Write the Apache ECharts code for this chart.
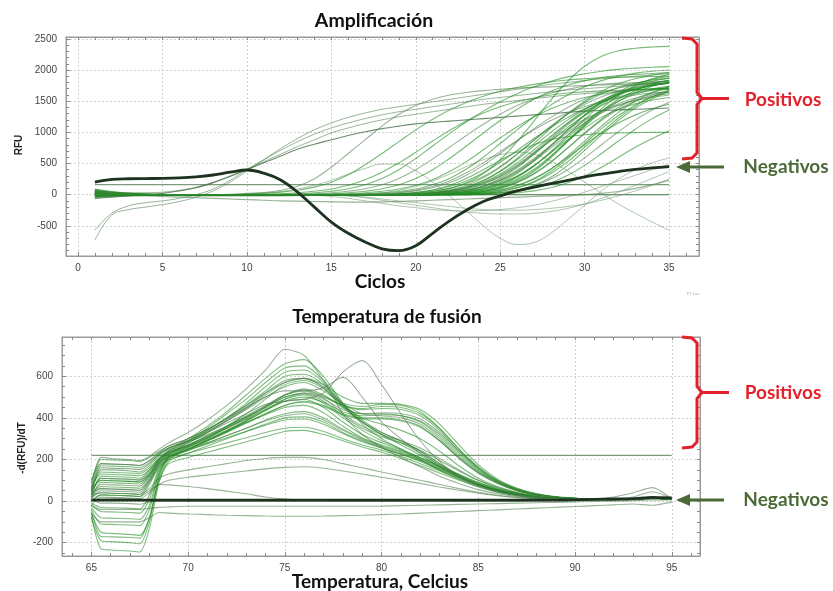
<!DOCTYPE html>
<html><head><meta charset="utf-8">
<script src="https://cdn.jsdelivr.net/npm/echarts@6/dist/echarts.min.js"></script>
<style>html,body{margin:0;padding:0;background:#fff}#c{width:833px;height:591px}</style>
</head><body><div id="c"></div>
<script>
// ---------- Amplification chart data (RFU vs cycle) ----------
const cycles = [1,2,3,4,5,6,7,8,9,10,11,12,13,14,15,16,17,18,19,20,21,22,23,24,25,26,27,28,29,30,31,32,33,34,35];
const cycleTicks = [0,5,10,15,20,25,30,35];
const rfuTicks = [-500,0,500,1000,1500,2000,2500];

const ampNegBlack = [200,245,255,258,260,268,285,315,360,395,345,235,40,-200,-440,-620,-760,-870,-900,-820,-620,-420,-250,-110,-20,60,120,175,230,285,330,370,405,430,450];
const ampFlat160 = [160,160,160,160,160,160,160,160,160,160,160,160,160,160,160,160,160,160,160,160,160,160,160,160,160,160,160,160,160,160,160,160,160,160,160];
const ampFlat0 = [0,0,0,0,0,0,0,0,0,0,0,0,0,0,0,0,0,0,0,0,0,0,0,0,0,0,0,0,0,0,0,0,0,0,0];
const ampNear0 = [10,5,0,-5,-10,-15,-20,-20,-20,-20,-20,-20,-15,-10,-5,0,0,0,0,0,0,0,0,0,0,0,0,0,0,0,0,0,0,0,0];

const ampE1 = [-730,-330,-240,-200,-160,-110,-40,60,200,380,560,740,900,1040,1150,1240,1310,1370,1410,1450,1490,1530,1570,1610,1650,1690,1730,1770,1800,1830,1860,1880,1900,1920,1940];
const ampE2 = [-570,-300,-180,-130,-100,-60,0,90,230,400,560,710,850,970,1070,1150,1220,1280,1330,1370,1410,1450,1490,1530,1560,1590,1620,1650,1680,1700,1720,1740,1760,1780,1800];
const ampE3 = [60,40,30,30,40,70,120,200,300,410,530,650,770,880,990,1070,1140,1200,1250,1290,1330,1370,1410,1450,1480,1510,1540,1570,1600,1620,1640,1660,1680,1700,1710];
const ampE4 = [-60,-40,-20,0,20,60,110,190,290,400,510,620,730,810,880,950,1010,1060,1100,1135,1160,1180,1200,1220,1240,1260,1280,1300,1320,1340,1350,1360,1370,1380,1390];

const ampS1 = [50,30,15,5,0,0,0,0,5,20,35,70,135,255,440,660,880,1100,1290,1430,1530,1600,1640,1670,1690,1710,1720,1730,1740,1750,1760,1770,1775,1780,1785];
const ampS2 = [20,10,0,0,0,0,0,0,0,10,20,40,70,120,200,320,480,660,850,1040,1210,1360,1480,1580,1660,1720,1770,1810,1840,1860,1875,1885,1890,1895,1900];
const ampS3 = [80,40,20,10,0,0,0,0,0,0,5,15,30,55,90,150,240,360,510,680,860,1030,1180,1310,1410,1490,1550,1600,1630,1650,1665,1675,1680,1685,1690];
const ampS4 = [0,-10,-10,-5,0,0,0,0,0,0,0,5,15,30,55,95,160,260,400,580,780,980,1170,1340,1490,1620,1730,1820,1890,1940,1980,2010,2030,2045,2055];
const ampS5 = [30,20,10,0,0,0,0,0,0,0,0,0,5,15,30,55,95,160,260,400,570,760,950,1130,1290,1430,1540,1630,1690,1740,1770,1790,1800,1810,1815];
const ampS6 = [-30,-20,-10,0,0,0,0,0,0,0,0,0,0,5,15,30,55,95,160,260,400,580,780,990,1190,1370,1530,1660,1760,1830,1880,1910,1930,1945,1955];
const ampS7 = [60,30,15,5,0,0,0,0,0,0,0,0,0,0,5,15,30,55,90,150,240,370,530,720,910,1090,1250,1380,1480,1560,1610,1650,1680,1700,1710];
const ampS8 = [10,5,0,0,0,0,0,0,0,0,0,0,0,0,0,5,15,30,50,90,160,260,410,600,820,1040,1250,1440,1600,1730,1830,1900,1950,1980,2000];
const ampS9 = [40,20,10,0,0,0,0,0,0,0,0,0,0,0,0,0,5,15,30,60,110,190,310,470,660,860,1060,1240,1400,1530,1630,1710,1760,1800,1830];
const ampS10 = [-20,-10,0,0,0,0,0,0,0,0,0,0,0,0,0,0,0,5,15,35,70,130,220,350,520,710,900,1080,1240,1380,1490,1570,1630,1680,1710];
const ampS11 = [90,50,25,10,0,0,0,0,0,0,0,0,0,0,0,0,0,0,10,25,55,100,180,290,450,650,870,1090,1300,1480,1620,1720,1790,1840,1870];
const ampS12 = [0,0,0,0,0,0,0,0,0,0,0,0,0,0,0,0,0,0,5,15,35,70,130,230,380,580,820,1070,1300,1500,1660,1780,1860,1920,1960];
const ampS13 = [20,10,5,0,0,0,0,0,0,0,0,0,0,0,0,0,0,0,5,15,30,60,110,190,310,480,670,870,1050,1210,1340,1440,1510,1560,1600];
const ampS14 = [50,25,10,0,0,0,0,0,0,0,0,0,0,0,0,0,0,0,0,10,25,50,95,170,290,450,650,870,1080,1270,1430,1550,1640,1700,1740];
const ampS15 = [-40,-20,-10,0,0,0,0,0,0,0,0,0,0,0,0,0,0,0,0,5,15,35,70,130,230,370,560,790,1040,1280,1490,1650,1770,1850,1900];
const ampS16 = [10,5,0,0,0,0,0,0,0,0,0,0,0,0,0,0,0,0,5,20,50,100,190,340,560,850,1180,1520,1820,2060,2220,2310,2350,2370,2380];
const ampS17 = [30,15,5,0,0,0,0,0,0,0,0,0,0,0,0,0,0,0,0,5,15,35,70,130,220,360,540,750,960,1150,1310,1430,1520,1580,1620];
const ampS18 = [0,0,0,0,0,0,0,0,0,0,0,0,0,0,0,0,0,0,0,0,10,25,55,110,200,340,540,780,1030,1270,1470,1620,1720,1790,1830];
const ampS19 = [70,35,15,5,0,0,0,0,0,0,0,0,0,0,0,0,0,0,0,0,10,25,50,100,180,300,470,670,880,1070,1240,1370,1460,1520,1560];
const ampS20 = [-10,-5,0,0,0,0,0,0,0,0,0,0,0,0,0,0,0,0,0,0,0,15,40,85,160,280,460,690,950,1210,1440,1620,1740,1820,1870];
const ampS21 = [40,20,10,0,0,0,0,0,0,0,0,0,0,0,0,0,0,0,0,0,0,10,25,55,110,200,340,530,750,980,1190,1370,1500,1600,1660];
const ampS22 = [20,10,0,0,0,0,0,0,0,0,0,0,0,0,0,0,0,0,0,0,0,10,30,65,125,230,390,610,870,1130,1380,1590,1750,1860,1930];
const ampS23 = [60,30,15,5,0,0,0,0,0,0,0,0,0,0,0,0,0,0,0,0,0,0,15,40,80,150,260,410,600,800,990,1150,1280,1380,1450];
const ampS24 = [0,0,0,0,0,0,0,0,0,0,0,0,0,0,0,0,0,0,0,0,0,0,10,25,55,110,200,340,530,760,1000,1230,1420,1570,1680];
const ampS25 = [30,15,5,0,0,0,0,0,0,0,0,0,0,0,0,0,0,0,0,0,0,0,0,15,35,75,140,250,400,590,800,1010,1200,1360,1480];
const ampS26 = [-30,-15,-5,0,0,0,0,0,0,0,0,0,0,0,0,0,0,0,0,0,0,0,0,10,25,55,105,190,310,470,660,860,1050,1220,1360];
const ampS27 = [10,5,0,0,0,0,0,0,0,0,0,0,0,0,0,0,0,0,0,0,0,0,0,0,10,30,60,110,190,300,440,600,760,900,1020];
const ampS28 = [50,25,10,0,0,0,0,0,0,0,0,0,0,0,0,0,0,5,15,35,75,150,260,400,550,690,800,880,930,960,980,990,995,1000,1000];
const ampS29 = [20,10,0,0,0,0,0,0,0,0,0,0,0,0,0,0,0,0,0,5,20,45,90,170,290,460,680,920,1150,1350,1510,1630,1710,1760,1790];
const ampS30 = [0,0,0,0,0,0,0,0,0,0,0,0,0,0,0,0,0,0,0,0,5,20,45,90,170,290,460,680,920,1150,1350,1500,1610,1680,1720];
const ampS31 = [40,20,10,0,0,0,0,0,0,0,0,0,0,0,0,0,0,0,0,0,0,5,20,50,100,190,330,520,750,990,1210,1400,1540,1640,1700];
const ampS32 = [-20,-10,0,0,0,0,0,0,0,0,0,0,0,0,0,0,0,0,0,0,0,0,5,20,50,110,210,370,580,820,1060,1270,1440,1570,1650];
const ampS33 = [30,15,0,0,0,0,0,0,0,0,0,0,0,0,0,0,5,15,35,70,130,220,350,510,690,870,1040,1190,1310,1410,1490,1550,1600,1630,1650];
const ampS34 = [0,0,0,0,0,0,0,0,0,0,0,0,0,0,0,0,0,0,0,10,25,55,110,200,330,510,720,940,1150,1330,1480,1600,1690,1750,1800];
const ampS35 = [10,5,0,0,0,0,0,0,0,0,0,0,0,0,0,0,0,0,0,0,10,30,70,140,260,430,650,890,1120,1320,1480,1600,1690,1750,1790];
const ampS36 = [-10,0,0,0,0,0,0,0,0,0,0,0,0,0,0,0,0,0,0,0,0,5,20,50,110,210,370,590,850,1110,1340,1530,1670,1770,1840];
const ampS37 = [60,30,10,0,0,0,0,0,0,0,0,0,0,0,0,0,0,0,5,15,35,75,150,270,440,650,880,1100,1290,1450,1570,1660,1720,1760,1790];
const ampS38 = [0,0,0,0,0,0,0,0,0,0,0,0,0,0,0,0,0,0,0,0,0,0,0,10,30,70,150,280,470,710,960,1190,1390,1540,1650];
const ampS39 = [20,10,0,0,0,0,0,0,0,0,0,0,0,0,0,0,0,0,0,10,30,60,120,220,370,560,780,1000,1200,1370,1510,1620,1700,1760,1800];
const ampS40 = [30,15,5,0,0,0,0,0,0,0,0,0,0,0,0,0,0,0,0,0,0,10,30,70,140,250,410,620,860,1100,1320,1500,1640,1740,1810];
const ampS41 = [0,0,0,0,0,0,0,0,0,0,0,0,0,0,0,0,0,0,0,5,15,35,75,140,240,390,580,790,1000,1190,1340,1460,1550,1610,1650];
const ampS42 = [-20,-10,0,0,0,0,0,0,0,0,0,0,0,0,0,0,0,0,0,0,0,0,10,30,70,140,250,410,620,860,1100,1320,1500,1640,1740];

const ampHumpDip = [20,10,0,0,0,0,0,0,0,10,25,50,90,150,230,330,420,490,490,380,200,-20,-260,-500,-700,-800,-770,-620,-400,-170,60,250,400,510,590];
const ampRiseFall = [0,0,0,0,0,0,0,0,0,0,0,0,0,0,0,0,10,30,70,130,220,330,450,560,640,680,650,540,380,200,20,-150,-300,-440,-570];
const ampLow1 = [0,0,0,0,0,0,0,0,0,0,0,0,0,0,0,-20,-50,-90,-130,-170,-210,-250,-280,-300,-310,-310,-300,-270,-220,-150,-60,40,150,260,370];
const ampLow2 = [30,10,0,0,0,0,0,0,0,0,0,0,0,-10,-30,-60,-100,-140,-180,-210,-240,-255,-260,-255,-240,-210,-170,-110,-40,40,130,220,310,400,480];
const ampLow3 = [-50,-30,-20,-20,-30,-40,-50,-60,-70,-80,-90,-100,-105,-110,-115,-120,-120,-115,-110,-100,-90,-80,-70,-60,-50,-40,-30,-20,-10,0,20,50,100,160,230];
const ampLow4 = [0,0,0,0,0,0,0,0,0,0,0,0,0,0,-10,-20,-40,-70,-100,-130,-160,-190,-220,-240,-250,-250,-240,-220,-190,-150,-90,-20,60,150,250];

// ---------- Melt curve data (-d(RFU)/dT vs temperature) ----------
const tempC = [65,65.5,66,67,67.5,68,68.5,69,70,71,72,73,74,75,76,77,78,79,80,81,82,83,84,85,86,87,88,89,90,91,92,93,94,95];
const tempTicks = [65,70,75,80,85,90,95];
const dTicks = [-200,0,200,400,600];

const mA1 = [80,210,205,200,195,215,250,280,330,390,460,540,630,730,700,580,420,320,260,210,165,120,85,55,35,22,14,10,8,8,8,10,20,10];
const mA2 = [40,150,150,145,140,170,220,250,300,360,430,510,590,660,680,600,470,370,300,250,200,150,105,68,42,26,16,11,8,8,8,10,15,10];
const mA3 = [20,120,118,115,110,150,210,245,290,350,420,490,570,640,650,580,470,390,330,290,240,180,125,80,50,30,18,12,9,8,8,10,14,10];
const mA4 = [-60,-150,-155,-160,-165,-80,120,220,280,340,400,470,550,620,630,570,460,380,320,270,220,165,115,75,45,28,18,12,9,8,8,10,14,10];
const mA5 = [60,100,98,95,92,130,200,240,290,340,400,460,530,600,610,560,460,380,320,280,230,175,120,78,48,30,18,12,9,8,8,10,14,10];
const mA6 = [30,80,78,75,72,120,200,240,280,330,390,450,520,580,590,545,450,380,330,290,240,180,125,80,50,30,18,12,9,8,8,10,14,10];
const mB1 = [50,170,168,165,160,185,225,255,290,335,385,440,500,550,570,530,470,455,465,460,430,350,250,160,95,55,32,20,13,10,9,10,14,10];
const mB2 = [10,90,88,85,82,120,190,230,270,315,360,410,460,510,535,505,460,440,445,440,410,340,240,155,95,55,32,20,13,10,9,10,14,10];
const mB3 = [-30,-80,-82,-85,-88,-20,140,210,250,295,340,390,440,490,520,500,460,445,455,450,420,350,250,165,100,60,35,20,13,10,9,10,14,10];
const mB4 = [70,130,128,125,122,150,200,235,270,310,355,405,455,510,540,510,450,420,420,410,380,310,220,145,90,52,30,18,12,10,9,10,14,10];
const mB5 = [20,60,58,55,52,100,180,225,265,305,350,400,450,500,520,490,440,420,425,420,395,330,240,160,98,58,33,20,13,10,9,10,14,10];
const mB6 = [-80,-190,-195,-200,-205,-100,110,200,245,290,335,385,435,480,500,475,430,410,415,410,385,320,230,150,92,55,32,20,13,10,9,10,14,10];
const mB7 = [40,110,108,105,102,135,195,230,265,300,340,380,420,460,480,460,420,400,400,390,360,290,205,135,85,50,30,18,12,10,9,10,14,10];
const mB8 = [0,30,28,25,22,80,170,215,255,290,330,375,420,460,475,455,415,395,395,385,355,290,210,140,88,52,30,18,12,10,9,10,14,10];
const mB9 = [90,200,198,195,190,210,240,265,300,345,400,460,520,570,590,560,500,470,470,465,440,370,270,175,105,62,36,22,14,10,9,10,14,10];
const mB10 = [30,110,108,105,100,140,200,240,280,330,385,445,510,570,590,550,470,420,410,400,370,300,210,135,85,50,30,18,12,10,9,10,14,10];
const mB11 = [-10,-30,-32,-35,-38,30,160,215,260,305,360,420,490,560,580,540,460,400,370,340,300,240,170,110,70,42,26,16,11,9,8,10,14,10];
const mC1 = [60,140,138,135,132,160,205,235,270,310,350,395,440,480,490,450,380,320,280,245,210,170,130,90,60,38,24,15,11,9,8,10,14,10];
const mC2 = [30,70,68,65,62,110,185,225,260,295,335,375,415,450,460,425,360,305,270,240,205,165,125,88,58,36,22,14,10,9,8,10,14,10];
const mC3 = [-40,-110,-112,-115,-118,-40,130,205,245,280,315,350,390,420,430,400,345,300,265,235,200,160,120,85,56,35,22,14,10,9,8,10,14,10];
const mC4 = [10,50,48,45,42,95,175,215,250,280,315,350,385,410,420,390,340,295,260,230,195,155,118,82,54,34,21,14,10,9,8,10,14,10];
const mC5 = [-70,-230,-235,-240,-245,-130,90,190,230,265,300,335,370,400,405,380,330,290,255,225,190,150,112,78,52,33,20,13,10,9,8,10,14,10];
const mC6 = [50,100,98,95,92,125,185,215,245,275,305,335,365,390,395,370,325,285,255,225,195,155,115,80,53,33,20,13,10,9,8,10,14,10];
const mC7 = [-20,-50,-52,-55,-58,10,150,210,250,290,335,385,435,490,510,470,400,340,290,250,210,165,120,80,52,33,20,13,10,9,8,10,14,10];
const mC8 = [100,180,178,175,170,195,230,255,285,320,360,405,450,500,515,480,410,350,310,280,245,195,145,100,65,40,25,15,11,9,8,10,14,10];
const mC9 = [40,60,58,55,52,105,180,225,265,305,350,400,455,510,530,495,420,360,320,290,255,205,150,100,64,40,25,15,11,9,8,10,14,10];
const mD1 = [20,40,38,35,32,90,165,200,230,255,280,305,330,350,355,335,300,270,245,215,180,145,108,75,50,32,20,13,10,9,8,10,14,10];
const mD2 = [-50,-170,-172,-175,-178,-80,100,180,210,235,260,285,310,335,340,320,290,260,235,205,170,135,100,70,47,30,19,12,9,8,8,10,14,10];
const mE1 = [60,180,178,175,172,195,235,265,300,345,395,450,500,530,530,545,595,500,380,300,230,170,115,75,45,28,17,11,9,8,8,10,14,10];
const mE2 = [40,160,158,155,152,180,225,255,290,330,375,420,465,480,490,520,620,675,560,420,290,190,120,75,45,28,17,11,9,8,8,10,14,10];
const mF1 = [30,40,38,35,32,60,110,130,150,165,180,195,205,210,210,200,180,160,140,120,100,80,60,42,28,18,12,8,6,5,5,8,12,10];
const mF2 = [-20,20,18,15,12,40,80,100,115,125,135,145,155,162,165,158,145,130,115,100,85,68,52,38,26,17,11,8,6,5,5,8,12,10];
const mG1 = [0,30,28,25,22,50,80,78,70,60,48,35,20,10,5,3,2,2,2,2,3,3,3,3,3,3,3,3,3,3,3,5,10,10];
const mG2 = [-20,-40,-40,-40,-40,-35,-30,-28,-25,-25,-25,-25,-25,-25,-25,-25,-25,-25,-24,-22,-20,-18,-16,-14,-12,-10,-8,-6,-4,-2,0,2,5,5];
const mG3 = [-60,-100,-100,-100,-100,-80,-55,-58,-62,-65,-68,-70,-72,-73,-73,-72,-70,-68,-65,-62,-58,-54,-50,-46,-42,-38,-34,-30,-26,-22,-18,-14,-20,-5];
const mZ1 = [0,15,14,12,10,5,2,2,2,2,2,2,2,2,2,2,2,2,2,2,2,2,2,2,2,2,2,3,4,6,8,20,45,10];
const mZ2 = [10,-10,-10,-12,-15,-5,0,0,0,0,0,0,0,0,0,0,0,0,0,0,0,0,0,0,0,0,2,5,8,10,20,40,65,10];
const mFlat220 = [220,220,220,220,220,220,220,220,220,220,220,220,220,220,220,220,220,220,220,220,220,220,220,220,220,220,220,220,220,220,220,220,220,220];
const mNegBlack = [5,5,5,5,5,5,5,5,5,5,5,5,5,5,5,5,5,5,5,5,5,5,5,5,5,5,5,5,6,8,10,12,18,15];

// ---------- build ----------
const GREEN = 'rgba(30,140,30,0.6)';
const GREY = 'rgba(85,130,85,0.6)';
const GREEN2 = 'rgba(25,135,25,0.55)';

function range(a, b, s) { const r = []; for (let v = a; v <= b + 1e-9; v += s) r.push(+v.toFixed(3)); return r; }

function line(xs, ys, ax, color, width, z, smooth) {
  return {
    type: 'line', xAxisIndex: ax, yAxisIndex: ax, silent: true, animation: false,
    data: xs.map((x, i) => [x, ys[i]]), showSymbol: false, symbol: 'none',
    smooth: smooth, lineStyle: { color: color, width: width }, z: z
  };
}

const series = [];
// top chart
[ampFlat0, ampNear0, ampLow3].forEach(a => series.push(line(cycles, a, 0, GREY, 1.2, 2, 0.4)));
series.push(line(cycles, ampFlat160, 0, 'rgba(90,130,90,0.8)', 1.3, 2, false));
[ampLow1, ampLow2, ampLow4, ampHumpDip, ampRiseFall].forEach(a => series.push(line(cycles, a, 0, 'rgba(110,150,110,0.55)', 1, 2, 0.4)));
[ampE1, ampE2, ampE3].forEach(a => series.push(line(cycles, a, 0, GREY, 1, 3, 0.4)));
series.push(line(cycles, ampE4, 0, 'rgba(60,100,60,0.75)', 1.1, 3, 0.4));
[ampS1, ampS2, ampS3, ampS4, ampS5, ampS6, ampS7, ampS8, ampS9, ampS10, ampS11, ampS12, ampS13, ampS14, ampS15,
 ampS16, ampS17, ampS18, ampS19, ampS20, ampS21, ampS22, ampS23, ampS24, ampS25, ampS26, ampS27, ampS28,
 ampS29, ampS30, ampS31, ampS32, ampS33, ampS34, ampS35, ampS36, ampS37, ampS38, ampS39, ampS40, ampS41, ampS42]
 .forEach((a, i) => series.push(line(cycles, a, 0, i % 4 === 0 ? GREY : GREEN, 1.1, 3, 0.4)));
series.push(line(cycles, ampNegBlack, 0, '#1d3320', 2.8, 10, 0.4));

// bottom chart
series.push(line(tempC, mFlat220, 3, 'rgba(90,130,90,0.8)', 1.3, 2, false));
[mG1, mG2, mG3, mZ1, mZ2, mF1, mF2].forEach(a => series.push(line(tempC, a, 3, GREY, 1.1, 2, 0.25)));
[mA1, mA2, mA3, mA4, mA5, mA6, mB1, mB2, mB3, mB4, mB5, mB6, mB7, mB8, mB9, mB10, mB11,
 mC1, mC2, mC3, mC4, mC5, mC6, mC7, mC8, mC9, mD1, mD2].forEach((a, i) => series.push(line(tempC, a, 3, i % 5 === 0 ? GREY : GREEN2, 1.1, 3, 0.25)));
[mE1, mE2].forEach(a => series.push(line(tempC, a, 3, 'rgba(90,120,90,0.75)', 1, 3, 0.3)));
series.push(line(tempC, mNegBlack, 3, '#1d3320', 2.8, 10, 0.25));

const lblStyle = { color: '#444', fontSize: 10, fontFamily: 'Liberation Sans', formatter: v => String(v) };
const gridLine = { show: true, lineStyle: { color: '#cfcfcf', type: [2, 2], width: 1 } };
const frameAxis = { show: true, onZero: false, lineStyle: { color: '#9a9a9a', width: 1 } };
const noAxisLine = { show: false, onZero: false };

function xAxes(gi, min, max, majors, minorStep) {
  const minors = range(Math.ceil(min), Math.floor(max), minorStep);
  return [
    { type: 'value', gridIndex: gi, position: 'bottom', min, max, splitNumber: 6,
      axisLine: frameAxis, axisTick: { show: true, inside: true, length: 4, customValues: majors, lineStyle: { color: '#888' } },
      axisLabel: Object.assign({ customValues: majors, margin: 7 }, lblStyle), splitLine: gridLine },
    { type: 'value', gridIndex: gi, position: 'bottom', min, max,
      axisLine: noAxisLine, axisTick: { show: true, inside: true, length: 3, customValues: minors, lineStyle: { color: '#888' } },
      axisLabel: { show: false }, splitLine: { show: false } },
    { type: 'value', gridIndex: gi, position: 'top', min, max,
      axisLine: frameAxis, axisTick: { show: true, inside: true, length: 3, customValues: minors, lineStyle: { color: '#888' } },
      axisLabel: { show: false }, splitLine: { show: false } }
  ];
}
function yAxes(gi, min, max, majors, minorStep) {
  const minors = range(Math.ceil(min / minorStep) * minorStep, max, minorStep);
  return [
    { type: 'value', gridIndex: gi, position: 'left', min, max, splitNumber: 6,
      axisLine: frameAxis, axisTick: { show: true, inside: true, length: 4, customValues: majors, lineStyle: { color: '#888' } },
      axisLabel: Object.assign({ customValues: majors, margin: 9 }, lblStyle), splitLine: gridLine },
    { type: 'value', gridIndex: gi, position: 'left', min, max,
      axisLine: noAxisLine, axisTick: { show: true, inside: true, length: 3, customValues: minors, lineStyle: { color: '#888' } },
      axisLabel: { show: false }, splitLine: { show: false } },
    { type: 'value', gridIndex: gi, position: 'right', min, max,
      axisLine: frameAxis, axisTick: { show: true, inside: true, length: 3, customValues: minors, lineStyle: { color: '#888' } },
      axisLabel: { show: false }, splitLine: { show: false } }
  ];
}

const TITLE_FONT = 'Lato';
function txt(x, y, text, size, color, rot, family) {
  return { type: 'text', x, y, rotation: rot || 0, z: 100, silent: true,
    style: { text, fontSize: size, fontWeight: 'bold', fontFamily: family || TITLE_FONT, fill: color || '#111', textAlign: 'center', textVerticalAlign: 'middle' } };
}
const RED = '#e1222c', DKG = '#4b6a38';
function bracket(top, bot) {
  const mid = (top + bot) / 2;
  return [
    { type: 'polyline', z: 100, silent: true, shape: { points: [[682, top], [692, top + 1], [697, top + 6], [697, mid - 6], [702, mid]] }, style: { stroke: RED, lineWidth: 3, fill: null } },
    { type: 'polyline', z: 100, silent: true, shape: { points: [[702, mid], [697, mid + 6], [697, bot - 6], [692, bot - 1], [682, bot]] }, style: { stroke: RED, lineWidth: 3, fill: null } },
    { type: 'line', z: 100, silent: true, shape: { x1: 700, y1: mid, x2: 729, y2: mid }, style: { stroke: RED, lineWidth: 3 } }
  ];
}
function arrow(y) {
  return [
    { type: 'line', z: 100, silent: true, shape: { x1: 724, y1: y, x2: 686, y2: y }, style: { stroke: DKG, lineWidth: 3 } },
    { type: 'polygon', z: 100, silent: true, shape: { points: [[676, y], [690, y - 6], [690, y + 6]] }, style: { fill: DKG } }
  ];
}

const option = {
  backgroundColor: '#fff',
  animation: false,
  grid: [
    { left: 66, top: 37, width: 633, height: 219, show: true, borderColor: '#9a9a9a', borderWidth: 1, containLabel: false },
    { left: 62, top: 337, width: 638, height: 219, show: true, borderColor: '#9a9a9a', borderWidth: 1, containLabel: false }
  ],
  xAxis: [].concat(xAxes(0, -0.71, 36.77, cycleTicks, 1), xAxes(1, 63.48, 96.46, tempTicks, 1)),
  yAxis: [].concat(yAxes(0, -985, 2530, rfuTicks, 100), yAxes(1, -264, 789, dTicks, 50)),
  series: series,
  graphic: [
    txt(374, 21, 'Amplificación', 19.5),
    txt(380, 282, 'Ciclos', 19),
    txt(387, 317, 'Temperatura de fusión', 19),
    txt(380, 582, 'Temperatura, Celcius', 19),
    txt(19, 145, 'RFU', 10, '#222', Math.PI / 2, 'Liberation Sans'),
    txt(22, 448, '-d(RFU)/dT', 10, '#222', Math.PI / 2, 'Liberation Sans'),
    txt(783, 100, 'Positivos', 19, RED),
    txt(786, 167, 'Negativos', 19, DKG),
    txt(783, 393, 'Positivos', 19, RED),
    txt(786, 500, 'Negativos', 19, DKG),
    { type: 'text', x: 693, y: 294, z: 100, silent: true, style: { text: 'FT Lux', fontSize: 4, fill: '#aaa', textAlign: 'center', textVerticalAlign: 'middle' } }
  ].concat(bracket(38, 159), bracket(337, 448), arrow(167), arrow(500))
};

const chart = echarts.init(document.getElementById('c'), null, { renderer: 'canvas' });
chart.setOption(option);
</script>
</body></html>
